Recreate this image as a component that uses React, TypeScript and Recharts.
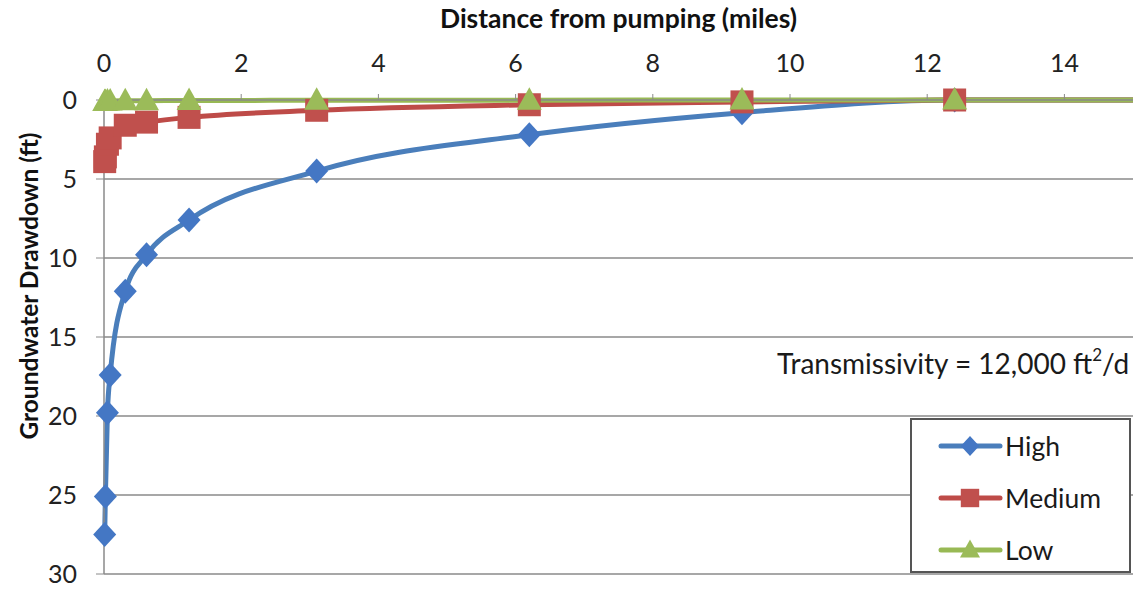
import { CartesianGrid, Legend, Line, LineChart, XAxis, YAxis } from "recharts";

// distance from the pumping well, miles (last point carries the lines to the chart edge)
const distances: number[] = [0.01, 0.02, 0.05, 0.09, 0.31, 0.62, 1.24, 3.1, 6.2, 9.3, 12.4, 15];

// groundwater drawdown, ft
const highDrawdown: number[] = [27.5, 25.1, 19.8, 17.4, 12.1, 9.8, 7.6, 4.5, 2.2, 0.8, 0, 0];
const mediumDrawdown: number[] = [3.9, 3.6, 2.8, 2.4, 1.6, 1.4, 1.1, 0.65, 0.3, 0.12, 0, 0];
const lowDrawdown: number[] = [0.1, 0.09, 0.07, 0.06, 0.05, 0.04, 0.03, 0.02, 0.01, 0, 0, 0];

const xTicks: number[] = [0, 2, 4, 6, 8, 10, 12, 14];
const yTicks: number[] = [0, 5, 10, 15, 20, 25, 30];

const seriesNames: string[] = ["High", "Medium", "Low"];

const FONT = "Lato, 'Open Sans', sans-serif";

const data = distances.map((dist, i) => ({
  dist,
  high: highDrawdown[i],
  medium: mediumDrawdown[i],
  low: lowDrawdown[i],
}));

type DotProps = { cx?: number; cy?: number; index?: number };

const lastIndex = distances.length - 1;

function diamondPath(cx: number, cy: number) {
  return `M${cx},${cy - 12.5}L${cx + 11.5},${cy}L${cx},${cy + 12.5}L${cx - 11.5},${cy}Z`;
}

function squarePath(cx: number, cy: number) {
  return `M${cx - 11.5},${cy - 11.5}h23v23h-23Z`;
}

function trianglePath(cx: number, cy: number) {
  return `M${cx},${cy - 13}L${cx + 12.5},${cy + 9.5}L${cx - 12.5},${cy + 9.5}Z`;
}

const makeDot =
  (shape: (cx: number, cy: number) => string, fill: string) =>
  (props: DotProps) => {
    const { cx, cy, index } = props;
    if (cx == null || cy == null || index === lastIndex) {
      return <g key={`d-${index}`} />;
    }
    return <path key={`d-${index}`} d={shape(cx, cy)} fill={fill} />;
  };

const colors = {
  high: { line: "#4A7EBB", mark: "#4477C4" },
  medium: { line: "#BE4B48", mark: "#C0504D" },
  low: { line: "#98B954", mark: "#9BBB59" },
};

function LegendBox() {
  const rows = [
    { name: seriesNames[0], c: colors.high, shape: diamondPath },
    { name: seriesNames[1], c: colors.medium, shape: squarePath },
    { name: seriesNames[2], c: colors.low, shape: trianglePath },
  ];
  return (
    <div
      style={{
        width: 221,
        height: 155,
        boxSizing: "border-box",
        border: "2px solid #555",
        background: "#fff",
        paddingTop: 0,
        fontFamily: FONT,
      }}
    >
      {rows.map((r) => (
        <div
          key={r.name}
          style={{ display: "flex", alignItems: "center", height: 52 }}
        >
          <svg width={93} height={30} style={{ flex: "none" }}>
            <line x1={29} y1={15} x2={88} y2={15} stroke={r.c.line} strokeWidth={5} strokeLinecap="round" />
            <path d={r.shape(58, 15)} fill={r.c.mark} transform="translate(58 15) scale(0.8) translate(-58 -15)" />
          </svg>
          <span style={{ fontSize: 26.5, color: "#1a1a1a" }}>{r.name}</span>
        </div>
      ))}
    </div>
  );
}

function YTitle(props: { viewBox?: { x: number; y: number } }) {
  const vb = props.viewBox ?? { x: 0, y: 0 };
  const x = vb.x + 28;
  const y = vb.y + 186;
  return (
    <text
      x={x}
      y={y}
      transform={`rotate(-90, ${x}, ${y})`}
      textAnchor="middle"
      dominantBaseline="central"
      fontFamily={FONT}
      fontSize={24.5}
      fontWeight={700}
      fill="#111"
    >
      Groundwater Drawdown (ft)
    </text>
  );
}

export default function App() {
  return (
    <div style={{ position: "absolute", left: 0, top: 0, width: 1140, height: 596, background: "#fff" }}>
      <LineChart
        width={1140}
        height={596}
        data={data}
        margin={{ top: 4, right: 7, bottom: 22, left: 0 }}
      >
        <CartesianGrid vertical={false} stroke="#8a8a8a" strokeWidth={1.5} />
        <XAxis
          type="number"
          dataKey="dist"
          orientation="top"
          domain={[0, 15]}
          ticks={xTicks}
          height={96}
          axisLine={{ stroke: "#8a8a8a", strokeWidth: 1.5 }}
          tickLine={{ stroke: "#8a8a8a" }}
          tickSize={6}
          tickMargin={22}
          tick={{ fontFamily: FONT, fontSize: 25, fill: "#222" }}
          label={{
            value: "Distance from pumping (miles)",
            position: "insideTop",
            offset: 5,
            style: { fontFamily: FONT, fontSize: 26.5, fontWeight: 700, fill: "#111" },
          }}
        />
        <YAxis
          type="number"
          reversed
          domain={[0, 30]}
          ticks={yTicks}
          width={104}
          axisLine={{ stroke: "#8a8a8a", strokeWidth: 1.5 }}
          tickLine={{ stroke: "#8a8a8a" }}
          tickSize={8}
          tickMargin={19}
          tick={{ fontFamily: FONT, fontSize: 25, fill: "#222" }}
          label={<YTitle />}
        />
        <Line
          type="monotone"
          dataKey="high"
          name={seriesNames[0]}
          stroke={colors.high.line}
          strokeWidth={5}
          dot={makeDot(diamondPath, colors.high.mark)}
          activeDot={false}
          isAnimationActive={false}
        />
        <Line
          type="monotone"
          dataKey="medium"
          name={seriesNames[1]}
          stroke={colors.medium.line}
          strokeWidth={5}
          dot={makeDot(squarePath, colors.medium.mark)}
          activeDot={false}
          isAnimationActive={false}
        />
        <Line
          type="monotone"
          dataKey="low"
          name={seriesNames[2]}
          stroke={colors.low.line}
          strokeWidth={5}
          dot={makeDot(trianglePath, colors.low.mark)}
          activeDot={false}
          isAnimationActive={false}
        />
        <Legend
          layout="horizontal"
          verticalAlign="middle"
          align="center"
          content={() => <LegendBox />}
          wrapperStyle={{ left: 910, top: 418, width: 221, height: 155 }}
        />
      </LineChart>
      <div
        style={{
          position: "absolute",
          left: 777,
          top: 346,
          fontFamily: FONT,
          fontSize: 28,
          color: "#1a1a1a",
          whiteSpace: "nowrap",
        }}
      >
        Transmissivity = 12,000 ft<sup style={{ fontSize: 17, verticalAlign: "top", position: "relative", top: -2 }}>2</sup>/d
      </div>
    </div>
  );
}
